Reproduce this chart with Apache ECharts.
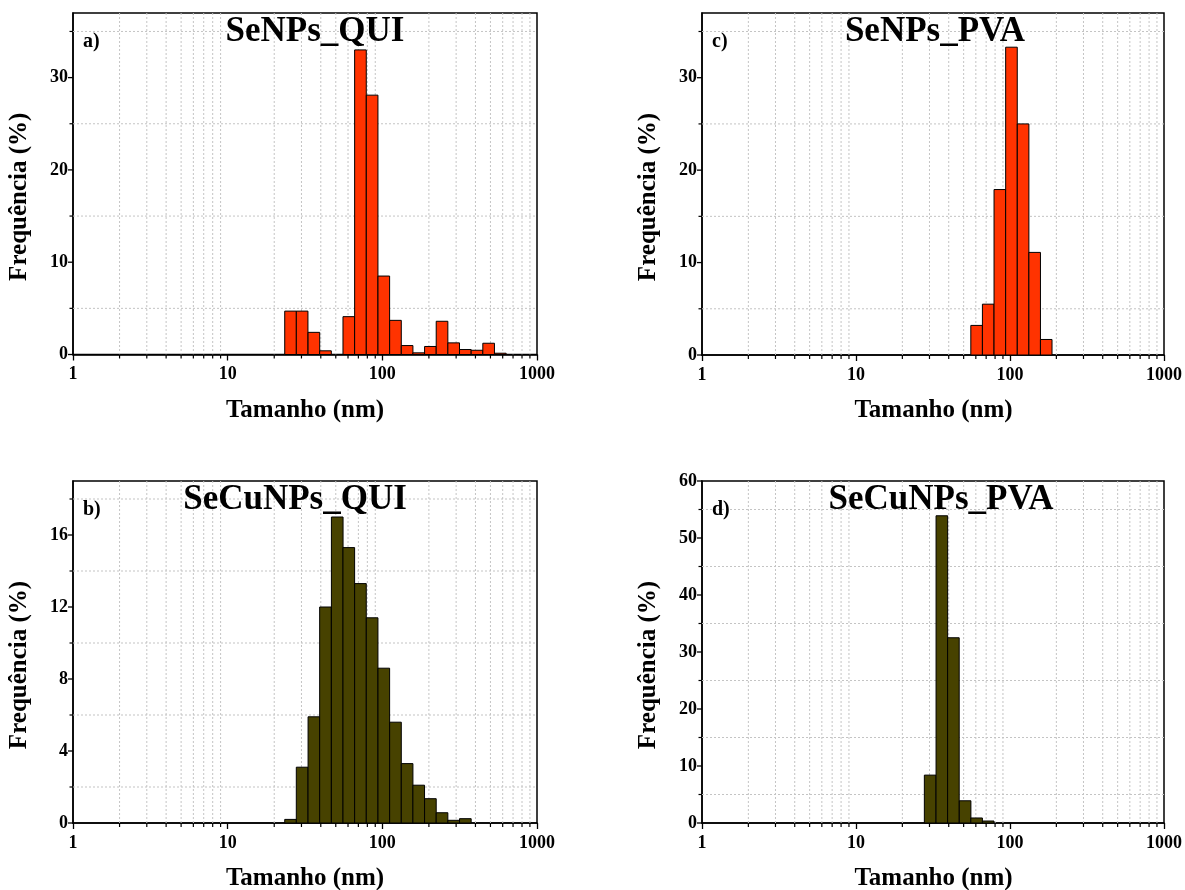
<!DOCTYPE html>
<html><head><meta charset="utf-8">
<script src="https://cdn.jsdelivr.net/npm/echarts/dist/echarts.min.js"></script>
<style>html,body{margin:0;padding:0;background:#fff}#c{width:1185px;height:890px}</style>
</head><body><div id="c"></div>
<script>
// Shared size bins (nm), log-spaced, centres
const binCenters = [25.5, 30.3, 36.1, 42.9, 51.1, 60.7, 72.2, 85.9, 102.2, 121.6, 144.6, 171.9, 204.5, 243.2, 289.3, 344.1, 409.3, 486.8, 579.1];
const binLogWidth = 0.0753; // bin width in decades

// Frequencies (%) per panel, aligned with binCenters
const freqSeNPsQUI   = [4.7, 4.7, 2.4, 0.4, 0, 4.1, 33.0, 28.1, 8.5, 3.7, 0.97, 0.18, 0.87, 3.6, 1.26, 0.54, 0.46, 1.22, 0.14];
const freqSeCuNPsQUI = [0.2, 3.1, 5.9, 12.0, 17.0, 15.3, 13.3, 11.4, 8.6, 5.6, 3.3, 2.1, 1.35, 0.57, 0.15, 0.24, 0, 0, 0];
const freqSeNPsPVA   = [0, 0, 0, 0, 0, 3.2, 5.5, 17.9, 33.3, 25.0, 11.1, 1.68, 0, 0, 0, 0, 0, 0, 0];
const freqSeCuNPsPVA = [0, 8.4, 53.9, 32.5, 3.9, 0.88, 0.35, 0, 0, 0, 0, 0, 0, 0, 0, 0, 0, 0, 0];

// Axis ticks
const xMajorTicks = [1, 10, 100, 1000];
const xMinorTicks = [2, 3, 4, 5, 6, 7, 8, 9, 20, 30, 40, 50, 60, 70, 80, 90, 200, 300, 400, 500, 600, 700, 800, 900];
const yMajorA = [0, 10, 20, 30];        const yMinorA = [5, 15, 25, 35];
const yMajorB = [0, 4, 8, 12, 16];      const yMinorB = [2, 6, 10, 14, 18];
const yMajorC = [0, 10, 20, 30];        const yMinorC = [5, 15, 25, 35];
const yMajorD = [0, 10, 20, 30, 40, 50, 60]; const yMinorD = [5, 15, 25, 35, 45, 55];

const panelTitles = ['SeNPs_QUI', 'SeCuNPs_QUI', 'SeNPs_PVA', 'SeCuNPs_PVA'];
const panelLetters = ['a)', 'b)', 'c)', 'd)'];
const xAxisTitle = 'Tamanho (nm)';
const yAxisTitle = 'Frequência (%)';

const RED = '#ff3300', OLIVE = '#474200';
const FONT = '"Liberation Serif", "Times New Roman", serif';

const panels = [
  {grid:{left:73, top:13, width:464, height:341.5}, yMax:37, yInt:10, major:yMajorA, minor:yMinorA, freq:freqSeNPsQUI, color:RED},
  {grid:{left:73, top:481, width:464, height:342}, yMax:19, yInt:4, major:yMajorB, minor:yMinorB, freq:freqSeCuNPsQUI, color:OLIVE},
  {grid:{left:702, top:13, width:463, height:342}, yMax:37, yInt:10, major:yMajorC, minor:yMinorC, freq:freqSeNPsPVA, color:RED},
  {grid:{left:702, top:481, width:463, height:342}, yMax:60, yInt:10, major:yMajorD, minor:yMinorD, freq:freqSeCuNPsPVA, color:OLIVE}
];

const grid = [], xAxis = [], yAxis = [], series = [], graphic = [];
const GRIDLINE = {stroke:'#c4c4c4', lineWidth:1, lineDash:[2,2]};

panels.forEach((p, i) => {
  grid.push(Object.assign({show:true, borderColor:'#000', borderWidth:1.5, backgroundColor:'transparent'}, p.grid));
  xAxis.push({type:'log', logBase:10, min:1, max:1000, gridIndex:i,
    axisLine:{show:true, lineStyle:{color:'#000', width:1.5}},
    axisTick:{show:true, inside:false, length:6, lineStyle:{color:'#000', width:1.3}},
    axisLabel:{color:'#000', fontFamily:FONT, fontWeight:'bold', fontSize:18, margin:11,
      formatter: v => xMajorTicks.includes(Math.round(v)) ? String(Math.round(v)) : ''},
    splitLine:{show:false}, minorTick:{show:false}});
  yAxis.push({type:'value', min:0, max:p.yMax, interval:p.yInt, gridIndex:i,
    axisLine:{show:true, lineStyle:{color:'#000', width:1.5}},
    axisTick:{show:false},
    axisLabel:{color:'#000', fontFamily:FONT, fontWeight:'bold', fontSize:18, margin:5,
      formatter: v => p.major.includes(v) ? String(v) : ''},
    splitLine:{show:false}});

  // x minor gridlines + minor ticks
  series.push({type:'custom', xAxisIndex:i, yAxisIndex:i, z:1, silent:true,
    data: xMinorTicks.map(v => [v, 0]),
    renderItem:(params, api) => {
      const cs = params.coordSys; const x = api.coord([api.value(0), api.value(1)])[0];
      const b = cs.y + cs.height;
      return {type:'group', children:[
        {type:'line', shape:{x1:x, y1:cs.y, x2:x, y2:b}, style:GRIDLINE},
        {type:'line', shape:{x1:x, y1:b, x2:x, y2:b + 4}, style:{stroke:'#000', lineWidth:1.2}}
      ]};
    }});
  // y minor gridlines + minor ticks
  series.push({type:'custom', xAxisIndex:i, yAxisIndex:i, z:1, silent:true,
    data: p.minor.map(v => [1, v]),
    renderItem:(params, api) => {
      const cs = params.coordSys; const y = api.coord([api.value(0), api.value(1)])[1];
      return {type:'group', children:[
        {type:'line', shape:{x1:cs.x, y1:y, x2:cs.x + cs.width, y2:y}, style:GRIDLINE},
        {type:'line', shape:{x1:cs.x - 3.5, y1:y, x2:cs.x, y2:y}, style:{stroke:'#000', lineWidth:1.2}}
      ]};
    }});
  // y major ticks
  series.push({type:'custom', xAxisIndex:i, yAxisIndex:i, z:1, silent:true,
    data: p.major.map(v => [1, v]),
    renderItem:(params, api) => {
      const cs = params.coordSys; const y = api.coord([api.value(0), api.value(1)])[1];
      return {type:'line', shape:{x1:cs.x - 5, y1:y, x2:cs.x, y2:y}, style:{stroke:'#000', lineWidth:1.3}};
    }});
  // histogram bars
  series.push({type:'custom', xAxisIndex:i, yAxisIndex:i, z:3,
    data: binCenters.map((c, k) => [c, p.freq[k]]),
    renderItem:(params, api) => {
      const c = api.value(0), v = api.value(1);
      if (!v) return null;
      const f = Math.pow(10, binLogWidth / 2);
      const p1 = api.coord([c / f, v]); const p2 = api.coord([c * f, 0]);
      return {type:'rect', shape:{x:p1[0], y:p1[1], width:p2[0] - p1[0], height:p2[1] - p1[1]},
        style:{fill:p.color, stroke:'#000', lineWidth:1}};
    }});

  const g = p.grid; const cx = g.left + g.width / 2; const bottom = g.top + g.height;
  const titleX = [315, 295, 935, 941][i];
  graphic.push({type:'text', x:titleX, y:g.top + 19, z:10,
    style:{text:panelTitles[i], textAlign:'center', textVerticalAlign:'middle', font:'bold 35px ' + FONT, fill:'#000'}});
  graphic.push({type:'text', x:g.left + 10, y:g.top + 29, z:10,
    style:{text:panelLetters[i], textAlign:'left', textVerticalAlign:'middle', font:'bold 20px ' + FONT, fill:'#000'}});
  graphic.push({type:'text', x:cx, y:bottom + 56, z:10,
    style:{text:xAxisTitle, textAlign:'center', textVerticalAlign:'middle', font:'bold 25px ' + FONT, fill:'#000'}});
  graphic.push({type:'text', x:g.left - 53, y:g.top + g.height / 2 + 13, rotation:Math.PI / 2, z:10,
    style:{text:yAxisTitle, textAlign:'center', textVerticalAlign:'middle', font:'bold 25px ' + FONT, fill:'#000'}});
});

const chart = echarts.init(document.getElementById('c'), null, {renderer:'canvas'});
chart.setOption({animation:false, backgroundColor:'#fff', grid, xAxis, yAxis, series, graphic});
</script></body></html>
